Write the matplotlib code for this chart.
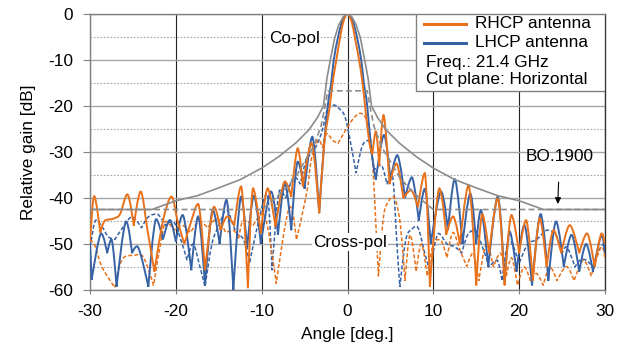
import matplotlib
matplotlib.use("Agg")
import matplotlib.pyplot as plt
from matplotlib.patches import Rectangle, PathPatch
from matplotlib.lines import Line2D
from matplotlib.path import Path

plt.rcParams['font.family'] = ['Liberation Sans', 'DejaVu Sans']
plt.rcParams['axes.unicode_minus'] = False

# RHCP antenna, co-pol (solid orange)
rhcp_co_ang = [-30.0, -29.5, -28.8, -28.3, -27.3, -26.5, -25.65, -24.9, -24.1, -23.3,
               -22.5, -21.5, -20.5, -19.8, -19.0, -18.2, -17.4, -16.6, -15.55, -14.8,
               -14.0, -13.2, -12.4, -11.6, -11.0, -10.1, -9.3, -8.4, -7.3, -6.55,
               -5.8, -5.2, -4.2, -3.3, -2.7, -2.1, -1.7, -1.3, -0.9, -0.5,
               0.0, 0.5, 0.9, 1.35, 1.75, 2.1, 2.55, 2.9, 3.3, 3.7,
               4.2, 4.9, 5.7, 6.5, 7.4, 8.2, 9.0, 9.6, 10.7, 11.5,
               12.3, 13.1, 14.1, 15.0, 15.7, 16.5, 17.5, 18.3, 19.1, 20.0,
               20.8, 21.6, 22.4, 23.2, 24.0, 24.9, 25.9, 27.0, 27.9, 28.8,
               29.6, 30.0]
rhcp_co_db = [-49, -39.6, -47.5, -45, -44.5, -43.5, -39.2, -46, -38.6, -47,
              -56, -45, -39.7, -45, -50, -45, -41.3, -55.7, -41.9, -47,
              -44, -46, -37.5, -59.6, -37.9, -47.7, -37.9, -46.2, -36.4, -39.7,
              -29.2, -37.5, -28.1, -43.3, -28, -20.5, -14.5, -10, -5.5, -1.8,
              0, -1.8, -5.5, -10, -15, -21, -28, -30.5, -25.5, -33,
              -22, -37, -32.5, -40, -38.3, -42, -34.6, -59.3, -37.9, -48,
              -44, -50, -37.2, -59, -43.5, -52, -40.1, -59, -43.7, -52,
              -44.8, -58, -44.4, -55, -47, -52, -45.9, -52, -47.7, -55,
              -47.7, -50]

# LHCP antenna, co-pol (solid blue)
lhcp_co_ang = [-30.0, -29.8, -28.7, -28.0, -27.5, -26.9, -25.8, -25.1, -24.5, -23.2,
               -22.3, -21.5, -20.7, -20.0, -19.2, -18.2, -17.4, -16.6, -15.7, -14.9,
               -14.1, -13.3, -12.4, -11.7, -10.9, -10.1, -8.9, -8.1, -7.3, -6.55,
               -5.8, -5.0, -4.1, -3.3, -2.8, -2.3, -1.9, -1.6, -1.1, -0.6,
               0.0, 0.6, 1.1, 1.6, 1.9, 2.3, 2.8, 3.3, 4.25, 5.0,
               5.8, 6.7, 7.5, 8.3, 9.0, 9.7, 10.9, 11.7, 12.5, 13.4,
               14.3, 15.0, 15.55, 16.4, 17.5, 18.3, 18.9, 19.7, 20.6, 21.5,
               22.5, 23.4, 24.3, 25.2, 26.1, 27.0, 27.8, 28.6, 29.6, 30.0]
lhcp_co_db = [-50, -57.8, -47.7, -52, -49, -59.3, -45.1, -52, -50.5, -59.3,
              -44.6, -49, -44.8, -49.5, -43.7, -55.7, -44.0, -59, -42.6, -50,
              -40.4, -60, -39.7, -51, -39.5, -50, -38.6, -48, -36.8, -47,
              -32.1, -38, -26.7, -43.3, -30, -20, -15, -10, -5, -1.5,
              0, -1.5, -5, -10, -15, -20, -30, -36, -26.3, -36,
              -30.7, -40, -35.5, -45, -38, -50, -38.6, -47, -35.9, -50,
              -39, -50, -42.6, -55, -39.7, -58, -47.3, -56, -45.9, -59,
              -43.5, -58, -45.1, -55, -48, -56, -50, -56, -48.2, -52]

# RHCP antenna, cross-pol (dashed orange)
rhcp_x_ang = [-30.0, -29.4, -28.6, -27.1, -26.3, -25.0, -23.8, -22.6, -21.6, -21.1,
              -20.2, -19.3, -18.3, -17.2, -16.3, -15.2, -14.2, -13.3, -12.7, -12.1,
              -11.0, -9.8, -8.3, -6.7, -5.95, -4.76, -4.2, -3.4, -2.9, -2.4,
              -1.7, -1.1, -0.3, 0.7, 1.46, 2.2, 2.8, 3.3, 3.6, 4.2,
              4.76, 5.34, 6.1, 6.7, 7.3, 8.0, 8.6, 9.3, 10.0, 10.8,
              11.6, 12.3, 13.1, 13.9, 14.6, 15.3, 16.2, 17.0, 17.8, 18.5,
              19.1, 19.8, 20.6, 21.3, 22.0, 22.8, 23.6, 24.4, 25.5, 26.4,
              27.5, 28.4, 29.6, 30.0]
rhcp_x_db = [-49, -50.5, -55, -59.5, -53.5, -52.5, -52.8, -59, -48, -45.1,
             -47, -45.9, -47.5, -45.1, -46.5, -44.5, -47.5, -47, -49, -44.8,
             -46, -43.3, -58.6, -41.9, -49.1, -39, -31.5, -27.4, -29, -26,
             -27.5, -28.1, -25.5, -22.7, -21.6, -23, -29, -45.5, -57, -44,
             -40.8, -39.7, -45, -58, -48, -56, -50, -57, -50, -49.1,
             -53, -47.5, -51.3, -54.9, -52, -58, -50, -55, -52, -57,
             -53, -59, -55, -58, -56.4, -59, -55, -58, -54.9, -58,
             -53.5, -57, -50.6, -53]

# LHCP antenna, cross-pol (dashed blue)
lhcp_x_ang = [-30.0, -29.3, -28.5, -27.9, -27.1, -26.1, -25.1, -24.0, -23.2, -22.2,
              -21.2, -20.4, -19.6, -18.7, -18.0, -17.2, -16.6, -15.8, -15.0, -14.1,
              -13.3, -12.9, -12.1, -11.4, -10.6, -9.4, -8.8, -7.9, -7.2, -6.2,
              -5.5, -4.8, -4.0, -3.05, -2.3, -1.6, -1.0, -0.3, 0.3, 1.0,
              1.7, 2.4, 3.1, 3.9, 4.6, 5.2, 5.8, 6.1, 6.8, 7.6,
              8.25, 9.0, 9.6, 10.6, 11.6, 12.5, 13.3, 14.0, 14.85, 15.6,
              16.5, 17.4, 18.0, 18.85, 20.0, 21.0, 22.0, 23.3, 24.3, 25.0,
              25.5, 26.5, 27.1, 27.8, 28.6, 29.7, 30.0]
lhcp_x_db = [-50.6, -44.8, -46.5, -48.4, -49, -46.2, -44.1, -46.5, -44.1, -43.5,
             -46, -45, -48, -53.5, -50, -54.9, -59.3, -50, -46, -42.6,
             -46, -47.7, -49.1, -54.2, -47, -39, -55.7, -38.3, -40, -35.4,
             -37, -31.7, -30, -26, -20.5, -19.8, -20.5, -22.3, -27.4, -34.6,
             -28.8, -27.5, -33.9, -32.8, -37, -35, -51.3, -59.3, -49, -46.6,
             -46.6, -52, -56, -47.7, -50, -50.6, -52, -48, -47, -50,
             -55, -53.5, -58, -49.1, -54.2, -50, -49.1, -47, -48.1, -52,
             -50.6, -55, -53.5, -53.5, -55, -50.2, -51]

# BO.1900 reference masks
mask_co_ang = [-30, -22.8, -20, -17.5, -15, -12.5, -10, -8, -6, -4.5, -3.5, -2.8, -2.4, -2.0,
               -1.5, -1.0, -0.5, 0, 0.5, 1.0, 1.5, 2.0, 2.4, 2.8, 3.5, 4.5, 6, 8, 10,
               12.5, 15, 17.5, 20, 22.8, 30]
mask_co_db = [-42.5, -42.5, -40.6, -39.5, -37.8, -36, -33.5, -31, -28, -25.2, -22.5, -20, -14, -10,
              -5.2, -2.3, -0.6, 0, -0.6, -2.3, -5.2, -10, -14, -20, -22.5, -25.2, -28, -31, -33.5,
              -36, -37.8, -39.5, -40.6, -42.5, -42.5]
mask_x_ang = [-30, -10, -8.5, -7, -6, -4.9, -4, -3.1, -2.6, -2.3,
              2.3, 2.6, 3.1, 4, 4.9, 6, 7, 8.5, 10, 30]
mask_x_db = [-42.5, -42.5, -40.2, -37.5, -35.3, -31.7, -29, -24.5, -20, -16.7,
             -16.7, -20, -24.5, -29, -31.7, -35.3, -37.5, -40.2, -42.5, -42.5]

orange = '#E8711A'
blue = '#3762A6'
gray = '#8C8C8C'
fs = 12.4


def smooth_path(xs, ys):
    # smoothed line through every point: sharp corners at nulls, flat tops at peaks
    n = len(xs)
    tx, ty = [], []
    for i in range(n):
        if i == 0:
            dx, dy = xs[1] - xs[0], ys[1] - ys[0]
        elif i == n - 1:
            dx, dy = xs[-1] - xs[-2], ys[-1] - ys[-2]
        else:
            dx = (xs[i + 1] - xs[i - 1]) / 2
            dy = (ys[i + 1] - ys[i - 1]) / 2
            if ys[i] < ys[i - 1] and ys[i] < ys[i + 1]:
                dx, dy = 0, 0
            elif ys[i] > ys[i - 1] and ys[i] > ys[i + 1]:
                dy = 0
        tx.append(dx)
        ty.append(dy)
    verts = [(xs[0], ys[0])]
    codes = [Path.MOVETO]
    for i in range(n - 1):
        verts += [(xs[i] + tx[i] / 3, ys[i] + ty[i] / 3),
                  (xs[i + 1] - tx[i + 1] / 3, ys[i + 1] - ty[i + 1] / 3),
                  (xs[i + 1], ys[i + 1])]
        codes += [Path.CURVE4] * 3
    return Path(verts, codes)


def draw(ax, xs, ys, **kw):
    ax.add_patch(PathPatch(smooth_path(xs, ys), fill=False, capstyle='butt', **kw))


fig = plt.figure(figsize=(6.29, 3.51), dpi=100)
ax = fig.add_axes([90/629, 1 - 290/351, 515/629, 276/351])

dash = (0, (2.6, 1.4))
draw(ax, lhcp_x_ang, lhcp_x_db, edgecolor=blue, lw=1.1, ls=dash, zorder=3)
draw(ax, rhcp_x_ang, rhcp_x_db, edgecolor=orange, lw=1.1, ls=dash, zorder=3)
draw(ax, lhcp_co_ang, lhcp_co_db, edgecolor=blue, lw=1.4, zorder=4)
draw(ax, rhcp_co_ang, rhcp_co_db, edgecolor=orange, lw=1.4, zorder=4)
ax.plot(mask_x_ang, mask_x_db, color=gray, lw=1.2, ls=(0, (3.5, 2)), zorder=5)
ax.plot(mask_co_ang, mask_co_db, color=gray, lw=1.2, zorder=5)

ax.set_xlim(-30, 30)
ax.set_ylim(-60, 0)
ax.set_xticks(range(-30, 31, 10))
ax.set_yticks(range(-60, 1, 10))
ax.set_yticks(range(-55, 0, 10), minor=True)
ax.tick_params(which='minor', length=0)
ax.tick_params(axis='y', which='major', length=5, color='#808080', labelsize=fs, pad=7)
ax.tick_params(axis='x', which='major', length=3, color='#808080', labelsize=fs, pad=7)
ax.grid(axis='y', which='major', color='#A6A6A6', lw=1.0, zorder=1)
ax.grid(axis='y', which='minor', color='#A6A6A6', lw=0.8, ls=(0, (1.5, 1.5)), zorder=1)
ax.grid(axis='x', which='major', color='#222222', lw=0.8, zorder=1)
ax.set_axisbelow(True)
for s in ax.spines.values():
    s.set_color('#808080')
    s.set_linewidth(1.0)
ax.spines['right'].set_color('#333333')

ax.set_xlabel('Angle [deg.]', fontsize=fs, labelpad=6)
ax.set_ylabel('Relative gain [dB]', fontsize=fs, labelpad=9)

box = dict(facecolor='white', edgecolor='none', pad=1.0)
ax.text(-6.2, -5.4, 'Co-pol', fontsize=fs, ha='center', va='center', bbox=box, zorder=2)
ax.text(0.3, -49.6, 'Cross-pol', fontsize=fs, ha='center', va='center', bbox=box, zorder=6)
ax.annotate('BO.1900', xy=(24.5, -41.3), xytext=(24.7, -31.0), fontsize=fs,
            ha='center', va='center', zorder=6,
            arrowprops=dict(arrowstyle='-|>', color='black', lw=0.8, mutation_scale=9,
                            shrinkA=11, shrinkB=0))

# legend box
ax.add_patch(Rectangle((0.633, 0.722), 0.367, 0.278, transform=ax.transAxes,
                       facecolor='white', edgecolor='#808080', lw=1.0, zorder=7))
ax.add_line(Line2D([0.6485, 0.730], [0.9638, 0.9638], transform=ax.transAxes,
                   color=orange, lw=2.2, zorder=8))
ax.add_line(Line2D([0.6485, 0.730], [0.8959, 0.8959], transform=ax.transAxes,
                   color=blue, lw=2.2, zorder=8))
ax.text(0.7476, 0.9638, 'RHCP antenna', transform=ax.transAxes, fontsize=fs,
        va='center', ha='left', zorder=8)
ax.text(0.7476, 0.8959, 'LHCP antenna', transform=ax.transAxes, fontsize=fs,
        va='center', ha='left', zorder=8)
ax.text(0.6524, 0.826, 'Freq.: 21.4 GHz', transform=ax.transAxes, fontsize=fs,
        va='center', ha='left', zorder=8)
ax.text(0.6524, 0.761, 'Cut plane: Horizontal', transform=ax.transAxes, fontsize=fs,
        va='center', ha='left', zorder=8)

fig.savefig('out.png', dpi=100)
